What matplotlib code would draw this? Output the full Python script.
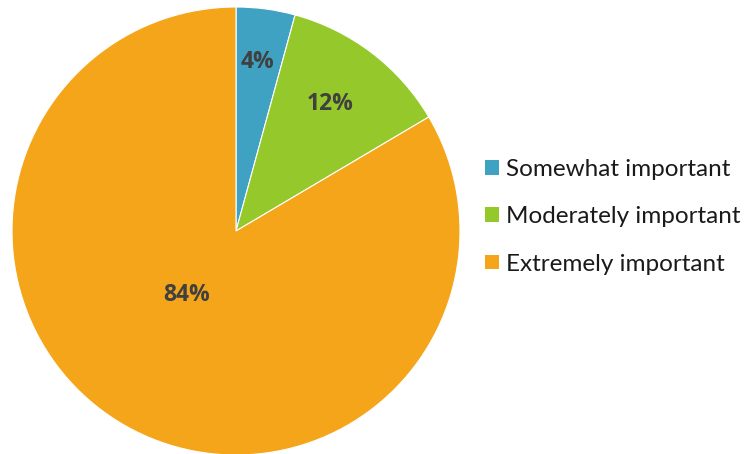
import matplotlib
matplotlib.use("Agg")
import matplotlib.pyplot as plt
import numpy as np

categories = ["Somewhat important", "Moderately important", "Extremely important"]
values = [4.25, 12.25, 83.5]
labels = ["4%", "12%", "84%"]
colors = ["#3fa2c3", "#95c82b", "#f5a51a"]

plt.rcParams['font.family'] = ['Lato', 'DejaVu Sans']

fig = plt.figure(figsize=(7.51, 4.54), dpi=100)
W, H = 751, 454
cx, cy, r = 236, 231, 224
ax = fig.add_axes([(cx - r) / W, (H - cy - r) / H, 2 * r / W, 2 * r / H])
wedges, _ = ax.pie(values, colors=colors, startangle=90, counterclock=False,
                   wedgeprops=dict(edgecolor="white", linewidth=0.8))
ax.set_xlim(-1, 1)
ax.set_ylim(-1, 1)
ax.set_aspect("equal")

# label positions (radius fraction, angle in degrees) as placed in the original
label_pos = [(0.76, 82.6), (0.705, 53.5), (0.36, -128.0)]
for lab, (rd, ang) in zip(labels, label_pos):
    a = np.deg2rad(ang)
    ax.text(rd * np.cos(a), rd * np.sin(a), lab, ha="center", va="center",
            fontsize=16.5, fontweight="bold", color="#404040",
            family=["Open Sans", "DejaVu Sans"])

leg = fig.legend(wedges, categories, loc="upper left",
                 bbox_to_anchor=(473 / W, 1 - 147 / H), frameon=False,
                 fontsize=17.5, handlelength=0.56, handleheight=0.56,
                 handletextpad=0.3, labelspacing=1.08, borderpad=0)
for h in leg.legend_handles:
    h.set_edgecolor("none")
for t in leg.get_texts():
    t.set_color("#1a1a1a")

fig.savefig("out.png", dpi=100)
